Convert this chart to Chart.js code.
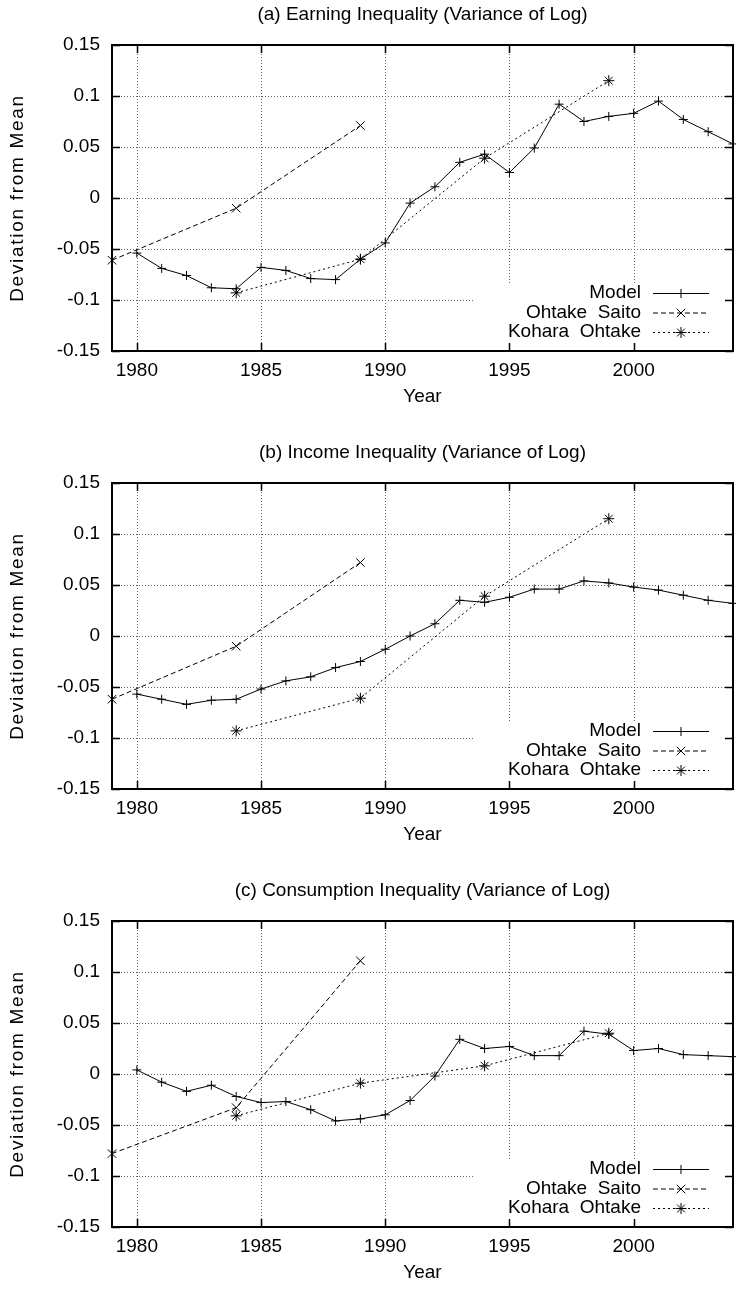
<!DOCTYPE html>
<html>
<head>
<meta charset="utf-8">
<script src="https://cdn.jsdelivr.net/npm/chart.js"></script>
<style>
  html, body { margin:0; padding:0; background:#fff; overflow:hidden; width:736px; height:1292px; }
  .panel { position:absolute; left:0; width:740px; height:438px; }
</style>
</head>
<body>
<div class="panel" style="top:0"><canvas id="chartA" width="740" height="438"></canvas></div>
<div class="panel" style="top:438px"><canvas id="chartB" width="740" height="438"></canvas></div>
<div class="panel" style="top:876px"><canvas id="chartC" width="740" height="438"></canvas></div>
<script>
// years
const modelYears = [1980,1981,1982,1983,1984,1985,1986,1987,1988,1989,1990,1991,1992,1993,1994,1995,1996,1997,1998,1999,2000,2001,2002,2003,2004];
const osYears = [1979,1984,1989];
const koYears = [1984,1989,1994,1999];

// (a) earnings
const earnModel = [-0.054,-0.069,-0.076,-0.088,-0.089,-0.068,-0.071,-0.079,-0.080,-0.060,-0.044,-0.005,0.011,0.035,0.043,0.025,0.049,0.092,0.075,0.080,0.083,0.095,0.077,0.065,0.053];
const earnOS = [-0.061,-0.010,0.071];
const earnKO = [-0.093,-0.060,0.039,0.115];

// (b) income
const incomeModel = [-0.057,-0.062,-0.067,-0.063,-0.062,-0.052,-0.044,-0.040,-0.031,-0.025,-0.013,0.000,0.012,0.035,0.033,0.038,0.046,0.046,0.054,0.052,0.048,0.045,0.040,0.035,0.032];
const incomeOS = [-0.062,-0.010,0.072];
const incomeKO = [-0.093,-0.061,0.039,0.115];

// (c) consumption
const consModel = [0.004,-0.008,-0.017,-0.011,-0.022,-0.028,-0.027,-0.035,-0.046,-0.044,-0.040,-0.026,-0.002,0.034,0.025,0.027,0.018,0.018,0.042,0.039,0.023,0.025,0.019,0.018,0.017];
const consOS = [-0.078,-0.033,0.111];
const consKO = [-0.041,-0.009,0.008,0.040];

const yearTicks = [1980,1985,1990,1995,2000];
const devTicks = [-0.15,-0.1,-0.05,0,0.05,0.1,0.15];
const devTickLabels = ["-0.15","-0.1","-0.05","0","0.05","0.1","0.15"];
const seriesNames = ["Model","Ohtake  Saito","Kohara  Ohtake"];
const yTitle = "Deviation from Mean";

const FONT = { family: "'Liberation Sans', Arial, Helvetica, sans-serif", size: 19, weight: 'normal' };
const FONT_CSS = "19px 'Liberation Sans', Arial, Helvetica, sans-serif";

const pts = (xs, ys) => xs.map((x,i) => ({x, y: ys[i]}));

// gnuplot look: dotted grid, key box hiding grid, inward ticks, key in the corner
const gnuFrame = {
  id: 'gnuFrame',
  beforeDatasetsDraw(chart){
    const {ctx, chartArea:a, scales:{x, y}} = chart;
    ctx.save();
    ctx.strokeStyle = '#666';
    ctx.lineWidth = 1;
    ctx.setLineDash([1,2]);
    ctx.beginPath();
    yearTicks.forEach(v=>{
      const px = Math.round(x.getPixelForValue(v)) + 0.5;
      ctx.moveTo(px, a.top); ctx.lineTo(px, a.bottom);
    });
    devTicks.slice(1,-1).forEach(v=>{
      const py = Math.round(y.getPixelForValue(v)) + 0.5;
      ctx.moveTo(a.left, py); ctx.lineTo(a.right, py);
    });
    ctx.stroke();
    // key area covers the grid
    ctx.fillStyle = '#fff';
    ctx.fillRect(a.right - 258, a.bottom - 68, 258, 68);
    ctx.restore();
  },
  afterDatasetsDraw(chart){
    const {ctx, chartArea:a, scales:{x, y}} = chart;
    ctx.save();
    ctx.setLineDash([]);
    ctx.strokeStyle = '#000';
    // ticks
    ctx.lineWidth = 1.5;
    ctx.beginPath();
    yearTicks.forEach(v=>{
      const px = Math.round(x.getPixelForValue(v)) + 0.5;
      ctx.moveTo(px, a.bottom); ctx.lineTo(px, a.bottom - 8);
      ctx.moveTo(px, a.top); ctx.lineTo(px, a.top + 8);
    });
    devTicks.forEach(v=>{
      const py = Math.round(y.getPixelForValue(v)) + 0.5;
      ctx.moveTo(a.left, py); ctx.lineTo(a.left + 8, py);
      ctx.moveTo(a.right, py); ctx.lineTo(a.right - 8, py);
    });
    ctx.stroke();
    // border
    ctx.lineWidth = 2;
    ctx.strokeRect(a.left, a.top, a.right - a.left, a.bottom - a.top);

    // key
    ctx.font = FONT_CSS;
    ctx.fillStyle = '#000';
    ctx.textAlign = 'right';
    ctx.textBaseline = 'middle';
    chart.data.datasets.forEach((ds,i)=>{
      const ly = a.bottom - 58 + i*19.5;
      ctx.fillText(ds.label, a.right - 92, ly);
      ctx.lineWidth = ds.borderWidth;
      ctx.setLineDash(ds.borderDash || []);
      ctx.beginPath();
      ctx.moveTo(a.right - 80, ly + 0.5); ctx.lineTo(a.right - 24, ly + 0.5);
      ctx.stroke();
      ctx.setLineDash([]);
      Chart.helpers.drawPoint(ctx, {pointStyle: ds.pointStyle, radius: ds.pointRadius, rotation: 0, borderWidth: 1}, a.right - 52, ly + 0.5);
    });

    // rotated y title, spaced out like the original
    ctx.translate(18, (a.top + a.bottom) / 2);
    ctx.rotate(-Math.PI / 2);
    ctx.textAlign = 'center';
    if ('letterSpacing' in ctx) ctx.letterSpacing = '1.7px';
    ctx.fillText(yTitle, 0, 0);
    ctx.restore();
  }
};

function makePanel(id, title, model, os, ko){
  const line = { borderColor:'#000', backgroundColor:'#000', pointBorderColor:'#000', borderWidth:1, pointBorderWidth:1, fill:false, tension:0, clip:false };
  return new Chart(document.getElementById(id), {
    type: 'line',
    data: {
      datasets: [
        { ...line, label: seriesNames[0], data: pts(modelYears, model), pointStyle:'cross', pointRadius:4.5 },
        { ...line, label: seriesNames[1], data: pts(osYears, os), borderDash:[5,3], pointStyle:'crossRot', pointRadius:6 },
        { ...line, label: seriesNames[2], data: pts(koYears, ko), borderDash:[2,3], pointStyle:'star', pointRadius:5.5 }
      ]
    },
    options: {
      responsive: false,
      animation: false,
      events: [],
      layout: { padding: { left:0, right:3, top:0, bottom:0 } },
      plugins: {
        legend: { display:false },
        tooltip: { enabled:false },
        title: { display:true, text:title, color:'#000', font:FONT, fullSize:false, padding:{top:3.6, bottom:18.6} }
      },
      scales: {
        x: {
          type:'linear', min:1979, max:2004,
          afterBuildTicks: s => { s.ticks = yearTicks.map(v=>({value:v})); },
          afterFit: s => { s.height = 87; },
          grid: { display:false, drawTicks:false },
          border: { display:false },
          ticks: { color:'#000', font:FONT, padding:8.3, autoSkip:false, maxRotation:0, callback: v => String(v) },
          title: { display:true, text:'Year', color:'#000', font:FONT, padding:{top:0, bottom:29.6} }
        },
        y: {
          type:'linear', min:-0.15, max:0.15,
          afterBuildTicks: s => { s.ticks = devTicks.map(v=>({value:v})); },
          afterFit: s => { s.width = 112; },
          grid: { display:false, drawTicks:false },
          border: { display:false },
          ticks: { color:'#000', font:FONT, padding:12, callback: (v,i) => devTickLabels[i] },
          title: { display:false }
        }
      }
    },
    plugins: [gnuFrame]
  });
}

makePanel('chartA', '(a) Earning Inequality (Variance of Log)', earnModel, earnOS, earnKO);
makePanel('chartB', '(b) Income Inequality (Variance of Log)', incomeModel, incomeOS, incomeKO);
makePanel('chartC', '(c) Consumption Inequality (Variance of Log)', consModel, consOS, consKO);
</script>
</body>
</html>
